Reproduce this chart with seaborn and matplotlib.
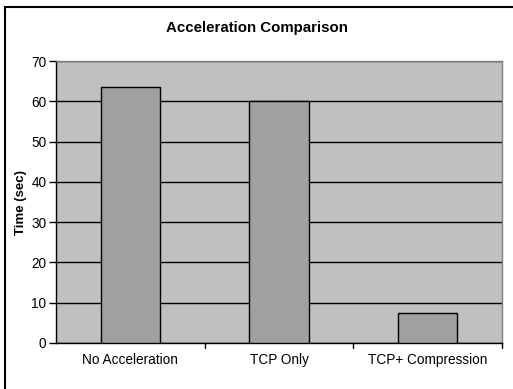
import matplotlib
matplotlib.use("Agg")
import matplotlib.pyplot as plt
from matplotlib.patches import Rectangle
import seaborn as sns
import pandas as pd

categories = ["No Acceleration", "TCP Only", "TCP+ Compression"]
times = [63.5, 60.0, 7.4]
yticks = [0, 10, 20, 30, 40, 50, 60, 70]

sns.set_theme(style="white")
plt.rcParams["font.family"] = ["Liberation Sans", "DejaVu Sans"]
plt.rcParams["text.color"] = "black"
plt.rcParams["axes.labelcolor"] = "black"
plt.rcParams["xtick.color"] = "black"
plt.rcParams["ytick.color"] = "black"

df = pd.DataFrame({"category": categories, "time": times})

fig = plt.figure(figsize=(5.13, 3.89), dpi=100)
ax = fig.add_axes([56 / 513, 1 - 343 / 389, (502 - 56) / 513, (343 - 61) / 389])

sns.barplot(data=df, x="category", y="time", color="#a0a0a0", width=0.4,
            edgecolor="black", linewidth=1.0, saturation=1, ax=ax, zorder=3)

ax.set_facecolor("#c0c0c0")
ax.set_ylim(0, 70)
ax.set_xlim(-0.5, 2.5)
ax.set_yticks(yticks)
ax.yaxis.grid(True, color="black", linewidth=1.0, zorder=1)
ax.set_axisbelow(True)

# category boundary ticks on the x axis
ax.set_xticks([0, 1, 2])
ax.set_xticklabels(categories, fontsize=9.8, color="black")
ax.tick_params(axis="x", length=0, pad=7)
for xb in [0.5, 1.5, 2.5]:
    ax.plot([xb, xb], [0, -1.2], color="black", lw=1.0, clip_on=False, zorder=5)

ax.tick_params(axis="y", length=5, width=1, color="black", labelcolor="black",
               labelsize=9.8, pad=2, left=True)

for side in ["top", "right"]:
    ax.spines[side].set_color("#808080")
    ax.spines[side].set_linewidth(1.0)
for side in ["left", "bottom"]:
    ax.spines[side].set_color("black")
    ax.spines[side].set_linewidth(1.0)

ax.set_xlabel("")
ax.set_ylabel("Time (sec)", fontsize=9.5, fontweight="bold", labelpad=3, color="black")

fig.text(0.5, 1 - 28 / 389, "Acceleration Comparison", ha="center", va="center",
         fontsize=10.8, fontweight="bold", color="black")

# outer chart frame
fig.patches.append(Rectangle((5 / 513, -0.02), 1.1, 1 - 7 / 389 + 0.02,
                             transform=fig.transFigure, fill=False,
                             edgecolor="black", linewidth=1.5))

fig.savefig("out.png", dpi=100, facecolor="white")
